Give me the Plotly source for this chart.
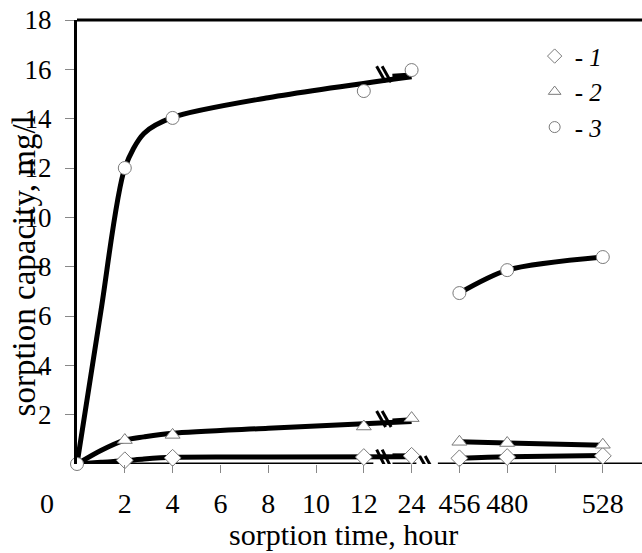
import plotly.graph_objects as go

# ---------------- data ----------------
# measured points: sorption time (hours) and sorption capacity (mg/l)
hours_1 = [2, 4, 12, 24, 456, 480, 528]
vals_1 = [0.15, 0.25, 0.28, 0.33, 0.23, 0.28, 0.33]
hours_2 = [2, 4, 12, 24, 456, 480, 528]
vals_2 = [0.97, 1.18, 1.52, 1.86, 0.90, 0.85, 0.78]
hours_3 = [0, 2, 4, 12, 24, 456, 480, 528]
vals_3 = [0.0, 12.0, 14.03, 15.12, 15.97, 6.93, 7.86, 8.39]

# fitted curves (first part, hours 0..12.4)
fit_h = [0, 1, 2, 2.8, 4, 8, 12.4]
fit_3 = [0.0, 6.2, 12.0, 13.4, 14.05, 14.85, 15.70]
fit_2 = [0.0, 0.55, 0.97, 1.10, 1.25, 1.45, 1.72]
fit_1 = [0.0, 0.07, 0.13, 0.20, 0.27, 0.28, 0.29]
# short pieces after the break, towards the 24 h point (axis positions)
seg_pos = [6.6, 6.92]
seg_3 = [15.72, 15.76]
seg_2 = [1.74, 1.78]
seg_1 = [0.33, 0.33]
# last part (456..528 h)
late_h = [456, 480, 528]
late_3 = [6.93, 7.86, 8.39]
late_2 = [0.90, 0.85, 0.76]
late_1 = [0.23, 0.29, 0.34]

tick_pos = [1, 2, 3, 4, 5, 6, 7, 8, 9, 10, 11]
tick_text = ["2", "4", "6", "8", "10", "12", "24", "456", "480", "", "528"]
y_ticks = [2, 4, 6, 8, 10, 12, 14, 16, 18]


def pos(h):
    """broken time axis: hours -> axis position"""
    if h <= 12:
        return h / 2.0
    if h <= 24:
        return 7.0
    return 8.0 + (h - 456) / 24.0


FONT = "Liberation Serif"
LW = 5
W, H = 642, 553
ML, MR, MT, MB = 77, 0, 20, 89
XMAX = 11.82
YMAX = 18
PX_X = (W - ML - MR) / XMAX   # pixels per x unit
PX_Y = (H - MT - MB) / YMAX   # pixels per y unit

fig = go.Figure()

# fitted lines
for fy in (fit_3, fit_2, fit_1):
    fig.add_trace(go.Scatter(x=[pos(h) for h in fit_h], y=fy, mode="lines",
                             line=dict(color="black", width=LW, shape="spline", smoothing=0.8),
                             showlegend=False, hoverinfo="skip", cliponaxis=False))
for sy in (seg_3, seg_2, seg_1):
    fig.add_trace(go.Scatter(x=seg_pos, y=sy, mode="lines",
                             line=dict(color="black", width=LW),
                             showlegend=False, hoverinfo="skip"))
for ly in (late_3, late_2, late_1):
    fig.add_trace(go.Scatter(x=[pos(h) for h in late_h], y=ly, mode="lines",
                             line=dict(color="black", width=LW, shape="spline", smoothing=0.8),
                             showlegend=False, hoverinfo="skip"))

MK = dict(color="white", size=13, line=dict(color="#7a7a7a", width=1))
for hh, vv, sym in ((hours_1, vals_1, "diamond"), (hours_2, vals_2, "triangle-up"),
                    (hours_3, vals_3, "circle")):
    fig.add_trace(go.Scatter(x=[pos(h) for h in hh], y=vv, mode="markers",
                             marker=dict(MK, symbol=sym), showlegend=False, cliponaxis=False))

# legend entries
for name, sym in (("- <i>1</i>", "diamond"), ("- <i>2</i>", "triangle-up"), ("- <i>3</i>", "circle")):
    fig.add_trace(go.Scatter(x=[None], y=[None], mode="markers", name=name,
                             marker=dict(color="white", size=11, symbol=sym,
                                         line=dict(color="#7a7a7a", width=1))))

shapes = []
# bottom axis line with gaps
for a, b in ((0, 6.2), (6.6, 7.1), (7.55, XMAX)):
    shapes.append(dict(type="line", xref="x", yref="y", x0=a, x1=b, y0=0, y1=0,
                       line=dict(color="black", width=3), layer="below"))
# top frame line
shapes.append(dict(type="line", xref="paper", yref="paper", x0=0, x1=1, y0=1, y1=1,
                   line=dict(color="black", width=3)))


def brk(xc, yc, h=8, w=4.5, gap=5.5):
    """a '\\\\' break symbol centred at (xc, yc); sizes in pixels"""
    out = []
    for dx in (-gap / 2, gap / 2):
        out.append(dict(type="line", xref="x", yref="y",
                        x0=xc + (dx - w) / PX_X, y0=yc + h / PX_Y,
                        x1=xc + (dx + w) / PX_X, y1=yc - h / PX_Y,
                        line=dict(color="black", width=3)))
    return out


shapes += brk(6.42, fit_3[-1] + 0.1)
shapes += brk(6.42, fit_2[-1] + 0.1)
shapes += brk(6.42, 0.22, h=9)
shapes += brk(7.32, 0.0)

fig.update_layout(
    width=W, height=H,
    margin=dict(l=ML, r=MR, t=MT, b=MB),
    paper_bgcolor="white", plot_bgcolor="white",
    font=dict(family=FONT, size=28, color="black"),
    shapes=shapes,
    showlegend=True,
    legend=dict(x=0.81, y=0.97, xanchor="left", yanchor="top", bgcolor="rgba(0,0,0,0)",
                font=dict(family=FONT, size=25, color="black"), tracegroupgap=0),
    xaxis=dict(range=[0, XMAX], showline=False, showgrid=False, zeroline=False,
               tickmode="array", tickvals=tick_pos, ticktext=tick_text,
               ticks="outside", ticklen=8, tickwidth=1, tickcolor="#888",
               ticklabelstandoff=6, tickfont=dict(family=FONT, size=28)),
    yaxis=dict(range=[0, YMAX], showline=True, linecolor="black", linewidth=3,
               showgrid=False, zeroline=False, tickmode="array", tickvals=y_ticks,
               ticks="outside", ticklen=9, tickwidth=1, tickcolor="#888",
               ticklabelstandoff=8, ticklabeloverflow="allow",
               tickfont=dict(family=FONT, size=27)),
    annotations=[
        dict(text="0", xref="paper", yref="paper", x=-0.0531, y=-0.088, showarrow=False,
             font=dict(family=FONT, size=28), xanchor="center", yanchor="middle"),
        dict(text="sorption capacity, mg/l", xref="paper", yref="paper", x=-0.093, y=0.446,
             textangle=-90, showarrow=False, font=dict(family=FONT, size=33),
             xanchor="center", yanchor="middle"),
        dict(text="sorption time, hour", xref="paper", yref="paper", x=0.471, y=-0.158,
             showarrow=False, font=dict(family=FONT, size=30),
             xanchor="center", yanchor="middle"),
    ],
)

# remove the default 8px page margin so the 642x553 figure fills the window exactly
fig.write_html("out.html", config={"displayModeBar": False},
               post_script="document.body.style.margin='0px';")
